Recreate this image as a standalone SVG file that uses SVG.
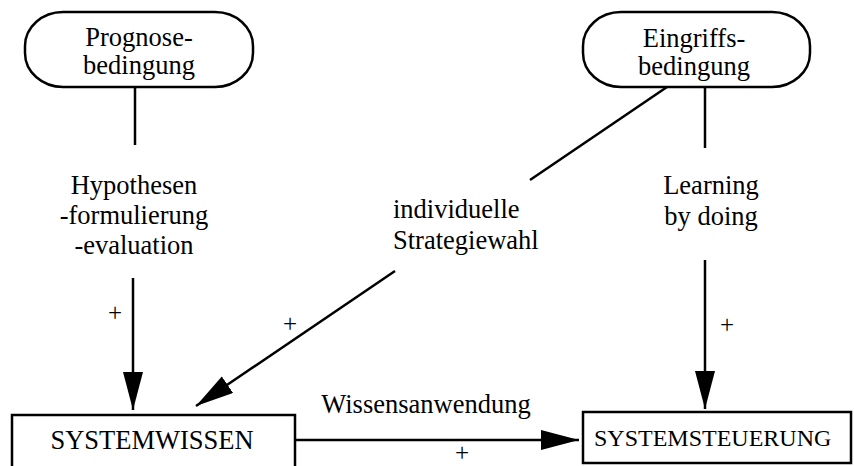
<svg xmlns="http://www.w3.org/2000/svg" width="854" height="466" viewBox="0 0 854 466">
<style>
text{font-family:"Liberation Serif","Times New Roman",serif;font-size:26.5px;fill:#000}
.c{text-anchor:middle}
.box{fill:#fff;stroke:#000;stroke-width:2.5}
.ln{fill:none;stroke:#000;stroke-width:2.5}
.pl{font-size:25px}
</style>
<defs>
<marker id="ah" markerUnits="userSpaceOnUse" markerWidth="40" markerHeight="22" refX="38" refY="10" orient="auto">
<path d="M0,0 L38,10 L0,20 z" fill="#000"/>
</marker>
</defs>
<rect width="854" height="466" fill="#fff"/>
<g id="connectors">
<line class="ln" x1="135" y1="87" x2="135" y2="145"/>
<line class="ln" x1="133" y1="278" x2="133" y2="410" marker-end="url(#ah)"/>
<line class="ln" x1="667" y1="87" x2="530" y2="180"/>
<line class="ln" x1="395" y1="271" x2="196" y2="406" marker-end="url(#ah)"/>
<line class="ln" x1="705" y1="87" x2="705" y2="148"/>
<line class="ln" x1="705" y1="260" x2="705" y2="409" marker-end="url(#ah)"/>
<line class="ln" x1="295" y1="440" x2="579" y2="440" marker-end="url(#ah)"/>
<text class="c" x="134" y="194">Hypothesen</text>
<text class="c" x="134" y="224">-formulierung</text>
<text class="c" x="134" y="254">-evaluation</text>
<text class="pl c" x="115" y="321">+</text>
<text x="393" y="218">individuelle</text>
<text x="393" y="249">Strategiewahl</text>
<text class="pl c" x="290" y="332">+</text>
<text class="c" x="711" y="194">Learning</text>
<text class="c" x="711" y="225">by doing</text>
<text class="pl c" x="727" y="333">+</text>
<text class="c" x="426" y="413">Wissensanwendung</text>
<text class="pl c" x="462" y="461">+</text>
</g>
<g id="prognose">
<rect class="box" x="25" y="12" width="228" height="75" rx="38" ry="34"/>
<text class="c" x="139" y="46">Prognose-</text>
<text class="c" x="139" y="74">bedingung</text>
</g>
<g id="eingriff">
<rect class="box" x="583" y="12" width="227" height="75" rx="38" ry="34"/>
<text class="c" x="694" y="47">Eingriffs-</text>
<text class="c" x="694" y="75">bedingung</text>
</g>
<g id="systemwissen">
<rect class="box" x="12" y="415" width="283" height="60"/>
<text class="c" x="152" y="449">SYSTEMWISSEN</text>
</g>
<g id="systemsteuerung">
<rect class="box" x="583" y="412" width="268" height="51"/>
<text x="594" y="446" style="font-size:24px">SYSTEMSTEUERUNG</text>
</g>
</svg>
